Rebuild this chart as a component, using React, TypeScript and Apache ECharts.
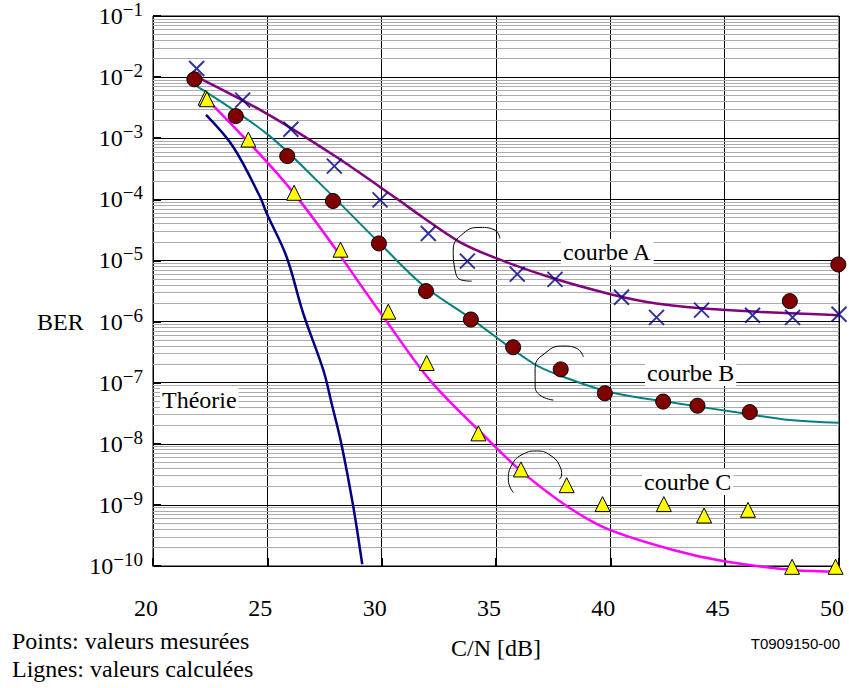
import React, { useEffect, useRef } from "react";
import * as echarts from "echarts";

// ---- Axis ticks ----
const xTicks = [20, 25, 30, 35, 40, 45, 50];
const yExponents = [-10, -9, -8, -7, -6, -5, -4, -3, -2, -1];
const minorMultipliers = [2, 3, 4, 5, 6, 7, 8, 9];

// ---- Calculated curves (lines) ----
const theorie: [number, number][] = [
  [22.32, 2.4e-3], [23.51, 7.2e-4], [24.68, 1.1e-4], [24.97, 5.9e-5], [25.84, 1.15e-5],
  [26.57, 1.36e-6], [27.45, 1.6e-7], [27.81, 4.6e-8], [28.25, 9.5e-9], [28.76, 9.3e-10],
  [29.15, 1.07e-10],
];
const courbeA: [number, number][] = [
  [21.98, 9.8e-3], [24.97, 2.53e-3], [27.89, 5.3e-4], [30.65, 1.03e-4], [31.67, 5.5e-5],
  [33.42, 2.0e-5], [35.03, 1.08e-5], [37.5, 5.1e-6], [40.05, 2.78e-6], [42.02, 1.98e-6],
  [45.08, 1.54e-6], [50, 1.27e-6],
];
const courbeB: [number, number][] = [
  [21.84, 7.4e-3], [24.97, 1.19e-3], [27.15, 2.06e-4], [30.07, 1.67e-5], [31.82, 3.9e-6],
  [33.86, 1.15e-6], [36.63, 2.06e-7], [37.94, 1.25e-7], [40.05, 6.9e-8], [42.9, 4.6e-8],
  [45.81, 3.15e-8], [47.85, 2.44e-8], [50, 2.2e-8],
];
const courbeC: [number, number][] = [
  [22.2, 5e-3], [26.13, 1.3e-4], [30.07, 1.2e-6], [32.11, 1.1e-7], [34.23, 1.68e-8],
  [36.05, 3.7e-9], [38.09, 9.6e-10], [39.84, 4.1e-10], [42.75, 1.83e-10], [45.04, 1.18e-10],
  [48.0, 8.6e-11], [50, 8.1e-11],
];

// ---- Measured points ----
const crossesA: [number, number][] = [
  [21.91, 1.38e-2], [23.92, 4.2e-3], [26.03, 1.4e-3], [27.93, 3.5e-4], [29.93, 9.8e-5],
  [32.04, 2.76e-5], [33.75, 9.75e-6], [35.93, 5.97e-6], [37.58, 4.9e-6], [40.49, 2.5e-6],
  [42.02, 1.17e-6], [43.99, 1.54e-6], [46.22, 1.27e-6], [47.97, 1.17e-6], [50, 1.32e-6],
];
const circlesB: [number, number][] = [
  [21.81, 9.2e-3], [23.62, 2.3e-3], [25.87, 5.1e-4], [27.87, 9.4e-5], [29.88, 1.9e-5],
  [31.94, 3.15e-6], [33.9, 1.08e-6], [35.75, 3.8e-7], [37.83, 1.65e-7], [39.76, 6.7e-8],
  [42.31, 4.9e-8], [43.81, 4.2e-8], [46.1, 3.3e-8], [47.85, 2.16e-6], [49.97, 8.6e-6],
];
const trianglesC: [number, number][] = [
  [22.3, 4.6e-3], [22.36, 4.35e-3], [24.17, 9.5e-4], [26.17, 1.28e-4], [28.2, 1.5e-5],
  [30.29, 1.45e-6], [31.97, 2.1e-7], [34.23, 1.48e-8], [36.09, 3.8e-9], [38.09, 2.1e-9],
  [39.66, 1.03e-9], [42.34, 1.03e-9], [44.1, 6.7e-10], [46.02, 8.3e-10], [47.95, 9.7e-11],
  [49.85, 9.7e-11],
];

// ---- Hand-drawn brackets (annotation strokes, in data units) ----
const bracketA: [number, number][] = [
  [35.17, 2.29e-5], [34.96, 3.13e-5], [34.3, 3.47e-5], [33.57, 2.77e-5], [33.13, 1.47e-5],
  [33.21, 6.93e-6], [33.5, 4.76e-6], [33.94, 4.58e-6],
];
const bracketB: [number, number][] = [
  [38.82, 2.65e-7], [38.53, 3.64e-7], [37.94, 3.97e-7], [37.22, 3.2e-7], [36.71, 1.71e-7],
  [36.71, 9.14e-8], [36.92, 6.27e-8], [37.51, 5.19e-8],
];
const bracketC: [number, number][] = [
  [35.76, 1.58e-9], [35.54, 2.55e-9], [35.69, 4.49e-9], [36.19, 6.79e-9], [36.78, 7.61e-9],
  [37.36, 6.54e-9], [37.8, 4.22e-9], [37.87, 3.08e-9], [37.77, 2.62e-9],
];

const SERIF = "Liberation Serif";
const SANS = "Liberation Sans";

export default function App() {
  const ref = useRef<HTMLDivElement>(null);

  useEffect(() => {
    if (!ref.current) return;
    const chart = echarts.init(ref.current, undefined, { renderer: "svg" });

    const minorValues: number[] = [];
    yExponents.slice(0, -1).forEach((e) => {
      minorMultipliers.forEach((m) => minorValues.push(m * Math.pow(10, e)));
    });

    const lineSeries = (name: string, data: [number, number][], color: string, width: number) => ({
      name,
      type: "line",
      data,
      smooth: 0.35,
      showSymbol: false,
      symbol: "none",
      clip: false,
      z: 3,
      lineStyle: { color, width },
    });
    const bracket = (data: [number, number][]) => ({
      type: "line",
      data,
      smooth: 0.5,
      symbol: "none",
      clip: false,
      silent: true,
      z: 3,
      lineStyle: { color: "#000", width: 1 },
    });

    const labelText = (text: string, x: number, y: number) => ({
      type: "text",
      x,
      y,
      z: 10,
      style: {
        text,
        fontFamily: SERIF,
        fontSize: 24,
        fill: "#000",
        verticalAlign: "middle",
        align: "left",
        backgroundColor: "#fff",
        padding: [1, 2, 1, 2],
      },
    });
    const plainText = (text: string, x: number, y: number, align: string, family: string, size: number) => ({
      type: "text",
      x,
      y,
      style: { text, fontFamily: family, fontSize: size, fill: "#000", verticalAlign: "middle", align },
    });

    chart.setOption({
      animation: false,
      backgroundColor: "#fff",
      grid: {
        left: 153,
        right: 10,
        top: 16,
        bottom: 122,
        show: true,
        borderColor: "#000",
        borderWidth: 1,
      },
      xAxis: {
        type: "value",
        min: xTicks[0],
        max: xTicks[xTicks.length - 1],
        interval: xTicks[1] - xTicks[0],
        axisLine: { show: true, lineStyle: { color: "#000", width: 1 } },
        axisTick: { show: true, inside: true, length: 8, lineStyle: { color: "#000", width: 2 } },
        splitLine: { show: true, lineStyle: { color: "#000", width: 1 } },
        axisLabel: {
          margin: 30,
          fontSize: 24,
          fontFamily: SERIF,
          color: "#000",
          padding: [0, 14, 0, 0],
        },
      },
      yAxis: {
        type: "log",
        logBase: 10,
        min: Math.pow(10, yExponents[0]),
        max: Math.pow(10, yExponents[yExponents.length - 1]),
        splitNumber: yExponents.length - 1,
        axisLine: { show: true, lineStyle: { color: "#000", width: 1 } },
        axisTick: { show: true, inside: true, length: 8, lineStyle: { color: "#000", width: 2 } },
        splitLine: { show: true, lineStyle: { color: "#000", width: 1 } },
        axisLabel: {
          margin: 10,
          formatter: (v: number) => {
            const e = Math.round(Math.log10(v));
            return `{b|10}{s|\u2212${Math.abs(e)}}`;
          },
          rich: {
            b: { fontSize: 24, fontFamily: SERIF, color: "#000", lineHeight: 24, verticalAlign: "bottom" },
            s: {
              fontSize: 19,
              fontFamily: SERIF,
              color: "#000",
              lineHeight: 19,
              verticalAlign: "bottom",
              padding: [0, 0, 9, 0],
            },
          },
        },
      },
      series: [
        {
          type: "line",
          data: [],
          symbol: "none",
          silent: true,
          z: 1,
          markLine: {
            silent: true,
            z: 1,
            precision: 20,
            symbol: ["none", "none"],
            label: { show: false },
            lineStyle: { color: "#ababab", width: 1, type: "solid" },
            emphasis: { disabled: true },
            data: minorValues.map((v) => ({ yAxis: v })),
          },
        },
        lineSeries("Théorie", theorie, "#000080", 2.5),
        lineSeries("courbe A", courbeA, "#800080", 2.5),
        lineSeries("courbe B", courbeB, "#008080", 2),
        lineSeries("courbe C", courbeC, "#ff00ff", 2.5),
        bracket(bracketA),
        bracket(bracketB),
        bracket(bracketC),
        {
          name: "A mesurée",
          type: "scatter",
          data: crossesA,
          clip: false,
          z: 5,
          symbol: "path://M0,0L20,20M20,0L0,20",
          symbolSize: 15,
          itemStyle: { color: "rgba(0,0,0,0)", borderColor: "#000080", borderWidth: 2 },
        },
        {
          name: "B mesurée",
          type: "scatter",
          data: circlesB,
          clip: false,
          z: 5,
          symbol: "circle",
          symbolSize: 15,
          itemStyle: { color: "#800000", borderColor: "#000", borderWidth: 1, opacity: 1 },
        },
        {
          name: "C mesurée",
          type: "scatter",
          data: trianglesC,
          clip: false,
          z: 5,
          symbol: "triangle",
          symbolSize: 15,
          itemStyle: { color: "#ffff00", borderColor: "#000", borderWidth: 1, opacity: 1 },
        },
      ],
      graphic: [
        labelText("courbe A", 561, 252),
        labelText("courbe B", 645, 373),
        labelText("courbe C", 642, 482),
        labelText("Théorie", 160, 400),
        plainText("BER", 37, 322, "left", SERIF, 24),
        plainText("C/N [dB]", 496, 648, "center", SERIF, 24),
        plainText("Points: valeurs mesurées", 12, 641, "left", SERIF, 24),
        plainText("Lignes: valeurs calculées", 12, 669, "left", SERIF, 24),
        plainText("T0909150-00", 840, 643, "right", SANS, 15),
      ],
    });

    return () => chart.dispose();
  }, []);

  return (
    <div
      ref={ref}
      style={{ position: "absolute", left: 0, top: 0, width: 849, height: 688, background: "#fff" }}
    />
  );
}
